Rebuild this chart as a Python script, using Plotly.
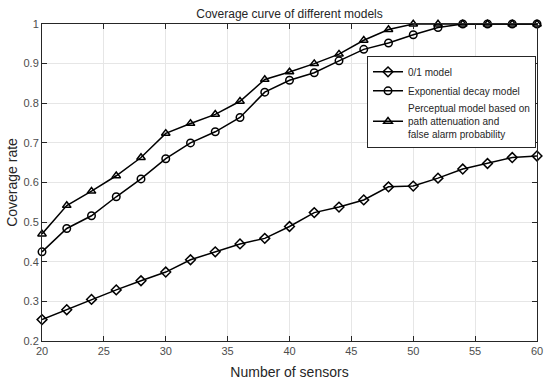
import plotly.graph_objects as go

sensors = [20, 22, 24, 26, 28, 30, 32, 34, 36, 38, 40, 42, 44, 46, 48, 50, 52, 54, 56, 58, 60]
model_01 = [0.254, 0.279, 0.305, 0.329, 0.352, 0.374, 0.405, 0.425, 0.445, 0.459, 0.489,
            0.524, 0.538, 0.556, 0.589, 0.591, 0.611, 0.634, 0.648, 0.663, 0.667]
model_exp = [0.425, 0.484, 0.516, 0.564, 0.609, 0.660, 0.700, 0.728, 0.764, 0.828, 0.858,
             0.877, 0.907, 0.936, 0.952, 0.973, 0.991, 1.0, 1.0, 1.0, 1.0]
model_perc = [0.470, 0.542, 0.578, 0.617, 0.663, 0.724, 0.749, 0.772, 0.805, 0.860, 0.879,
              0.900, 0.924, 0.959, 0.986, 1.0, 1.0, 1.0, 1.0, 1.0, 1.0]
names = ["0/1 model", "Exponential decay model",
         "Perceptual model based on<br>path attenuation and<br>false alarm probability"]
x_ticks = [20, 25, 30, 35, 40, 45, 50, 55, 60]
y_ticks = [0.2, 0.3, 0.4, 0.5, 0.6, 0.7, 0.8, 0.9, 1.0]
y_tick_labels = ["0.2", "0.3", "0.4", "0.5", "0.6", "0.7", "0.8", "0.9", "1"]

symbols = ["diamond-open", "circle-open", "triangle-up-open"]
fig = go.Figure()
for vals, name, sym in zip([model_01, model_exp, model_perc], names, symbols):
    fig.add_trace(go.Scatter(
        x=sensors, y=vals, name=name, mode="lines+markers",
        line=dict(color="black", width=1.5),
        marker=dict(symbol=sym, size=7.5, color="black", line=dict(width=1.5, color="black")),
        cliponaxis=False,
    ))

axis_common = dict(showline=True, linecolor="#262626", linewidth=1, mirror="ticks",
                   ticks="inside", ticklen=5, tickcolor="#262626", automargin=False,
                   showgrid=True, gridcolor="#e6e6e6", gridwidth=1, zeroline=False,
                   tickfont=dict(family="Liberation Sans, Arial", size=11, color="#4d4d4d"))

fig.update_layout(
    width=550, height=382,
    margin=dict(l=42, r=13, t=24, b=41),
    paper_bgcolor="white", plot_bgcolor="white",
    font=dict(family="Liberation Sans, Arial", color="#262626"),
    title=dict(text="Coverage curve of different models", x=0.5, xanchor="center",
               xref="paper", y=0.965, yanchor="middle", font=dict(size=12, color="#262626")),
    xaxis=dict(range=[20, 60], tickvals=x_ticks,
               title=dict(text="Number of sensors", font=dict(size=14, color="#262626"), standoff=10),
               **axis_common),
    yaxis=dict(range=[0.2, 1.0], tickvals=y_ticks, ticktext=y_tick_labels,
               title=dict(text="Coverage rate", font=dict(size=14, color="#262626"), standoff=2),
               **axis_common),
    legend=dict(x=0.998, xanchor="right", y=0.898, yanchor="top",
                bgcolor="white", bordercolor="#262626", borderwidth=1,
                font=dict(size=10, color="#262626"), tracegroupgap=0, itemwidth=30),
    showlegend=True,
)

fig.write_html("out.html", config={"displayModeBar": False},
               post_script="document.body.style.margin='0';")
